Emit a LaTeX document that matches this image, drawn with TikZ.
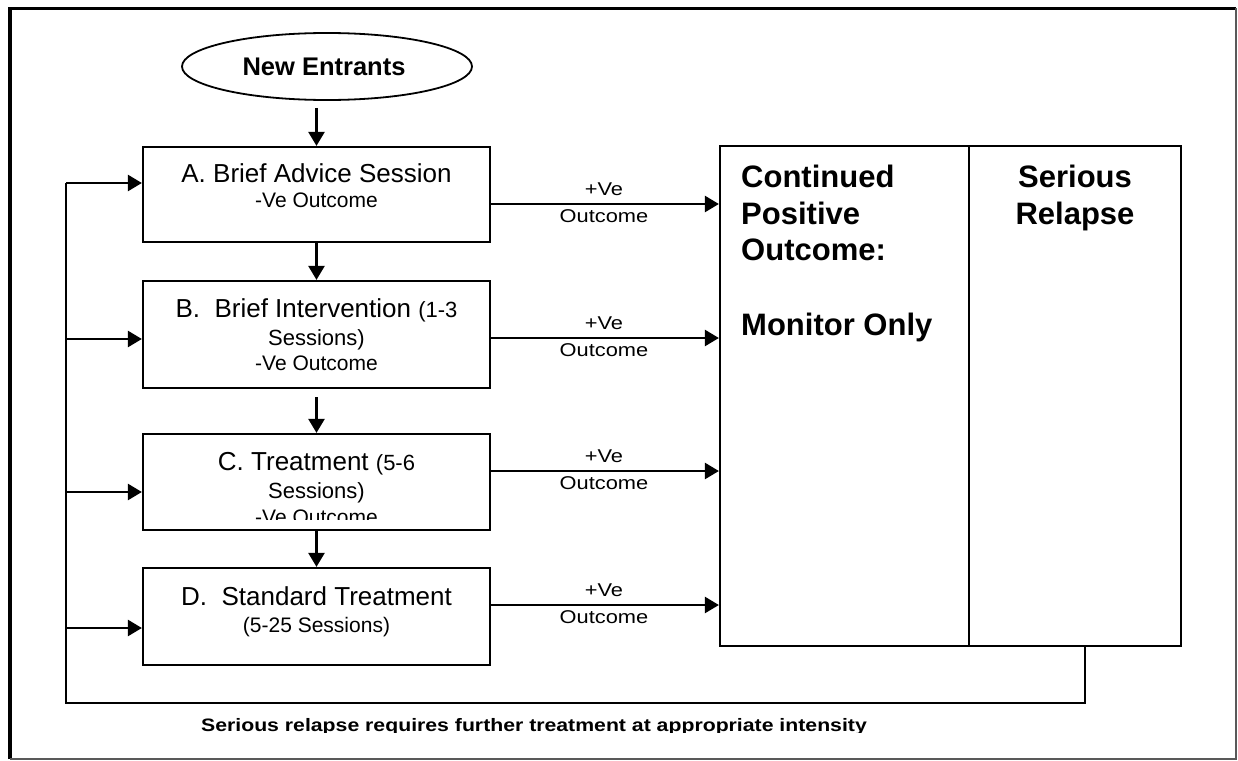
\documentclass[tikz,border=0pt]{standalone}
\usepackage{fontspec}
\setmainfont{Liberation Sans}
\newfontfamily\widesans[FakeStretch=1.18]{Liberation Sans}
\usetikzlibrary{arrows.meta,shapes.geometric}
\begin{document}
\begin{tikzpicture}[x=1pt,y=-1pt,
  box/.style={draw, line width=2.2pt, minimum width=347pt, inner sep=0pt},
  arr/.style={line width=2.4pt, -{Triangle[length=14pt,width=16pt]}},
  ln/.style={line width=2.4pt},
  maintxt/.style={anchor=base, inner sep=0pt, font=\fontsize{26}{30}\selectfont},
  midtxt/.style={anchor=base, inner sep=0pt, font=\fontsize{22}{26}\selectfont},
  subtxt/.style={anchor=base, inner sep=0pt, font=\fontsize{21}{25}\selectfont},
  lbl/.style={anchor=base, inner sep=0pt, font=\widesans\fontsize{18.5}{21}\selectfont},
  bigl/.style={anchor=base west, inner sep=0pt, font=\bfseries\fontsize{31}{37}\selectfont},
  bigc/.style={anchor=base, inner sep=0pt, font=\bfseries\fontsize{31}{37}\selectfont}]
\useasboundingbox (0,0) rectangle (1238,760);
% frame
\draw[line width=3.5pt] (10,759) -- (10,8.5) -- (1236,8.5);
\draw[line width=1.5pt, black!65] (1236,8.5) -- (1236,759) -- (10,759);
% start ellipse
\node[draw, ellipse, line width=1.8pt, minimum width=290pt, minimum height=67pt, inner sep=0pt] (NE) at (327,66.5) {};
\node[anchor=base, inner sep=0pt, font=\bfseries\fontsize{25.5}{30}\selectfont] (NEt) at (324,75) {New Entrants};
% boxes
\node[box, minimum height=95pt] (A) at (316.5,194.5) {};
\node[box, minimum height=107pt] (B) at (316.5,334.5) {};
\node[box, minimum height=96pt] (C) at (316.5,482) {};
\node[box, minimum height=97pt] (D) at (316.5,616.5) {};
\node[box, minimum width=249pt, minimum height=500pt] (R1) at (844.5,396) {};
\node[box, minimum width=212pt, minimum height=500pt] (R2) at (1075,396) {};
% box texts
\node[maintxt] (A1) at (316.5,182) {A. Brief Advice Session};
\node[subtxt] (A2) at (316.5,207) {-Ve Outcome};
\node[maintxt] (B1) at (316.5,317) {B.~~Brief Intervention {\fontsize{22}{26}\selectfont(1-3}};
\node[midtxt] (B2) at (316.5,345) {Sessions)};
\node[subtxt] (B3) at (316.5,370) {-Ve Outcome};
\node[maintxt] (C1) at (316.5,470) {C. Treatment {\fontsize{22}{26}\selectfont(5-6}};
\node[midtxt] (C2) at (316.5,498) {Sessions)};
\begin{scope}
\clip (145,436) rectangle (488,519);
\node[subtxt] (C3) at (316.5,524) {-Ve Outcome};
\end{scope}
\node[maintxt] (D1) at (316.5,605) {D.~~Standard Treatment};
\node[subtxt] (D2) at (316.5,632) {(5-25 Sessions)};
% right block texts
\node[bigl] (R1a) at (741,187) {Continued};
\node[bigl] (R1b) at (741,224) {Positive};
\node[bigl] (R1c) at (741,260) {Outcome:};
\node[bigl] (R1d) at (741,335) {Monitor Only};
\node[bigc] (R2a) at (1075,187) {Serious};
\node[bigc] (R2b) at (1075,224) {Relapse};
% vertical arrows
\coordinate (NEb) at ([yshift=-7pt]NE.south);
\draw[arr] (A.north |- NEb) -- (A.north);
\draw[arr] (A.south) -- (B.north);
\coordinate (Bb) at ([yshift=-8pt]B.south);
\draw[arr] (Bb) -- (C.north);
\draw[arr] (C.south) -- (D.north);
% positive outcome arrows
\coordinate (ya) at (0,204);
\coordinate (yb) at (0,338);
\coordinate (yc) at (0,471);
\coordinate (yd) at (0,605);
\draw[arr] (A.east |- ya) -- (R1.west |- ya);
\draw[arr] (B.east |- yb) -- (R1.west |- yb);
\draw[arr] (C.east |- yc) -- (R1.west |- yc);
\draw[arr] (D.east |- yd) -- (R1.west |- yd);
\foreach \n/\y in {a/204,b/338,c/471,d/605}{
  \node[lbl] (p\n) at (604,\y-9) {+Ve};
  \node[lbl] (o\n) at (604,\y+18) {Outcome};
}
% feedback loop
\coordinate (FR) at (1085,703);
\coordinate (FL) at (66,703);
\coordinate (la) at (66,183);
\coordinate (lb) at (66,339);
\coordinate (lc) at (66,492);
\coordinate (ld) at (66,628);
\draw[ln] (FR |- R2.south) -- (FR) -- (FL) -- (la);
\draw[arr] (la) -- (A.west |- la);
\draw[arr] (lb) -- (B.west |- lb);
\draw[arr] (lc) -- (C.west |- lc);
\draw[arr] (ld) -- (D.west |- ld);
% caption
\begin{scope}
\clip (0,0) rectangle (1238,732);
\node[anchor=base, inner sep=0pt, font=\widesans\bfseries\fontsize{18}{21}\selectfont] (cap) at (534,731) {Serious relapse requires further treatment at appropriate intensity};
\end{scope}
\end{tikzpicture}
\end{document}
